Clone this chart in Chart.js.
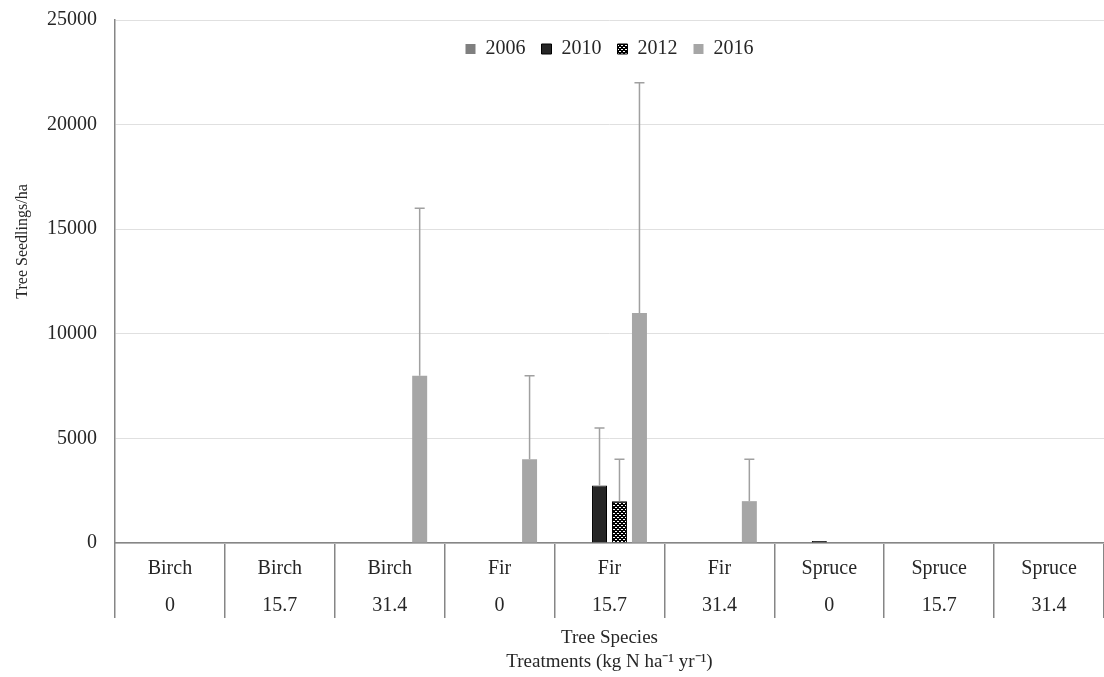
<!DOCTYPE html>
<html>
<head>
<meta charset="utf-8">
<script src="https://cdn.jsdelivr.net/npm/chart.js@4/dist/chart.umd.min.js"></script>
<style>
  html, body { margin: 0; padding: 0; background: #fff; }
  #wrap { width: 1104px; height: 677px; }
</style>
</head>
<body>
<div id="wrap"><canvas id="seedlingChart"></canvas></div>
<script>
const species = ['Birch', 'Birch', 'Birch', 'Fir', 'Fir', 'Fir', 'Spruce', 'Spruce', 'Spruce'];
const treatments = ['0', '15.7', '31.4', '0', '15.7', '31.4', '0', '15.7', '31.4'];
const yearLabels = ['2006', '2010', '2012', '2016'];

const values2006 = [0, 0, 0, 0, 0, 0, 0, 0, 0];
const values2010 = [0, 0, 0, 0, 2750, 0, 100, 0, 0];
const values2012 = [0, 0, 0, 0, 2000, 0, 0, 0, 0];
const values2016 = [0, 0, 8000, 4000, 11000, 2000, 0, 0, 0];

const err2006 = [0, 0, 0, 0, 0, 0, 0, 0, 0];
const err2010 = [0, 0, 0, 0, 2750, 0, 0, 0, 0];
const err2012 = [0, 0, 0, 0, 2000, 0, 0, 0, 0];
const err2016 = [0, 0, 8000, 4000, 11000, 2000, 0, 0, 0];

const yTicks = [0, 5000, 10000, 15000, 20000, 25000];

const textColor = '#262626';
const serif = "'Liberation Serif', 'Times New Roman', serif";

// dotted black/white fill for 2012
function makeDots() {
    const c = document.createElement('canvas');
    c.width = 4; c.height = 4;
    const g = c.getContext('2d');
    g.fillStyle = '#000';
    g.fillRect(0, 0, 4, 4);
    g.fillStyle = '#fff';
    g.fillRect(1, 1, 1, 1);
    g.fillRect(3, 3, 1, 1);
    g.fillRect(2, 1, 1, 1);
    g.fillRect(0, 3, 1, 1);
    return g.createPattern(c, 'repeat');
}

// upward-only error bars
const errorBars = {
    id: 'errorBars',
    afterDatasetsDraw(chart) {
        const ctx = chart.ctx;
        const y = chart.scales.y;
        chart.data.datasets.forEach((ds, di) => {
            const meta = chart.getDatasetMeta(di);
            ds.errors.forEach((e, i) => {
                if (!e) return;
                const bar = meta.data[i];
                const top = y.getPixelForValue(ds.data[i] + e);
                ctx.save();
                ctx.strokeStyle = '#a0a0a0';
                ctx.lineWidth = 1.5;
                ctx.beginPath();
                ctx.moveTo(bar.x, bar.y);
                ctx.lineTo(bar.x, top);
                ctx.moveTo(bar.x - 5, top);
                ctx.lineTo(bar.x + 5, top);
                ctx.stroke();
                ctx.restore();
            });
        });
    }
};

// let the legend sit inside the plot instead of taking a row above it
const legendInPlot = {
    id: 'legendInPlot',
    afterInit(chart) {
        const legend = chart.legend;
        const fit = legend.fit;
        legend.fit = function () {
            fit.call(this);
            this.realHeight = this.height;
            this.height = 0;
        };
    },
    afterLayout(chart) {
        const legend = chart.legend;
        legend.top += 3;
        legend.height = legend.realHeight;
        legend.bottom = legend.top + legend.realHeight;
    }
};

const ctx = document.getElementById('seedlingChart').getContext('2d');
const seedlingChart = new Chart(ctx, {
    type: 'bar',
    data: {
        labels: species.map((s, i) => [s, treatments[i]]),
        datasets: [
            { label: yearLabels[0], data: values2006, errors: err2006, backgroundColor: '#7f7f7f' },
            { label: yearLabels[1], data: values2010, errors: err2010, backgroundColor: '#262626', borderColor: '#000', borderWidth: 1 },
            { label: yearLabels[2], data: values2012, errors: err2012, backgroundColor: makeDots(), borderColor: '#000', borderWidth: 1 },
            { label: yearLabels[3], data: values2016, errors: err2016, backgroundColor: '#a6a6a6' }
        ]
    },
    options: {
        responsive: true,
        maintainAspectRatio: false,
        animation: false,
        datasets: { bar: { categoryPercentage: 0.727, barPercentage: 0.75 } },
        layout: { padding: { top: 20, right: 0, left: 0, bottom: 0 } },
        plugins: {
            legend: {
                position: 'top',
                align: 'center',
                fullSize: false,
                labels: {
                    boxWidth: 10,
                    boxHeight: 10,
                    padding: 16,
                    color: textColor,
                    font: { family: serif, size: 20 }
                }
            },
            tooltip: { enabled: false }
        },
        scales: {
            x: {
                grid: {
                    offset: true,
                    drawOnChartArea: false,
                    tickLength: 75,
                    color: '#868686',
                    lineWidth: 1.5
                },
                border: { color: '#868686', width: 1.5 },
                ticks: {
                    autoSkip: false,
                    maxRotation: 0,
                    padding: -68,
                    color: textColor,
                    font: { family: serif, size: 20, lineHeight: 1.85 }
                },
                title: {
                    display: true,
                    text: ['Tree Species', 'Treatments (kg N ha\u207B\u00B9 yr\u207B\u00B9)'],
                    color: textColor,
                    font: { family: serif, size: 19, lineHeight: 1.25 },
                    padding: { top: 0, bottom: 3 }
                },
                afterFit(s) { s.height = 134; }
            },
            y: {
                min: 0,
                max: 25000,
                afterBuildTicks(s) { s.ticks = yTicks.map(v => ({ value: v })); },
                grid: { color: '#e0e0e0', drawTicks: false },
                border: { color: '#868686', width: 1.5 },
                ticks: {
                    padding: 18,
                    color: textColor,
                    font: { family: serif, size: 20 },
                    callback: v => String(v)
                },
                title: {
                    display: true,
                    text: '\u00a0'.repeat(20) + 'Tree Seedlings/ha',
                    color: textColor,
                    font: { family: serif, size: 16 },
                    padding: { top: 13, bottom: 0 }
                },
                afterFit(s) {
                    s.width = 115;
                    s.paddingTop = 0;
                }
            }
        }
    },
    plugins: [errorBars, legendInPlot]
});
</script>
</body>
</html>
